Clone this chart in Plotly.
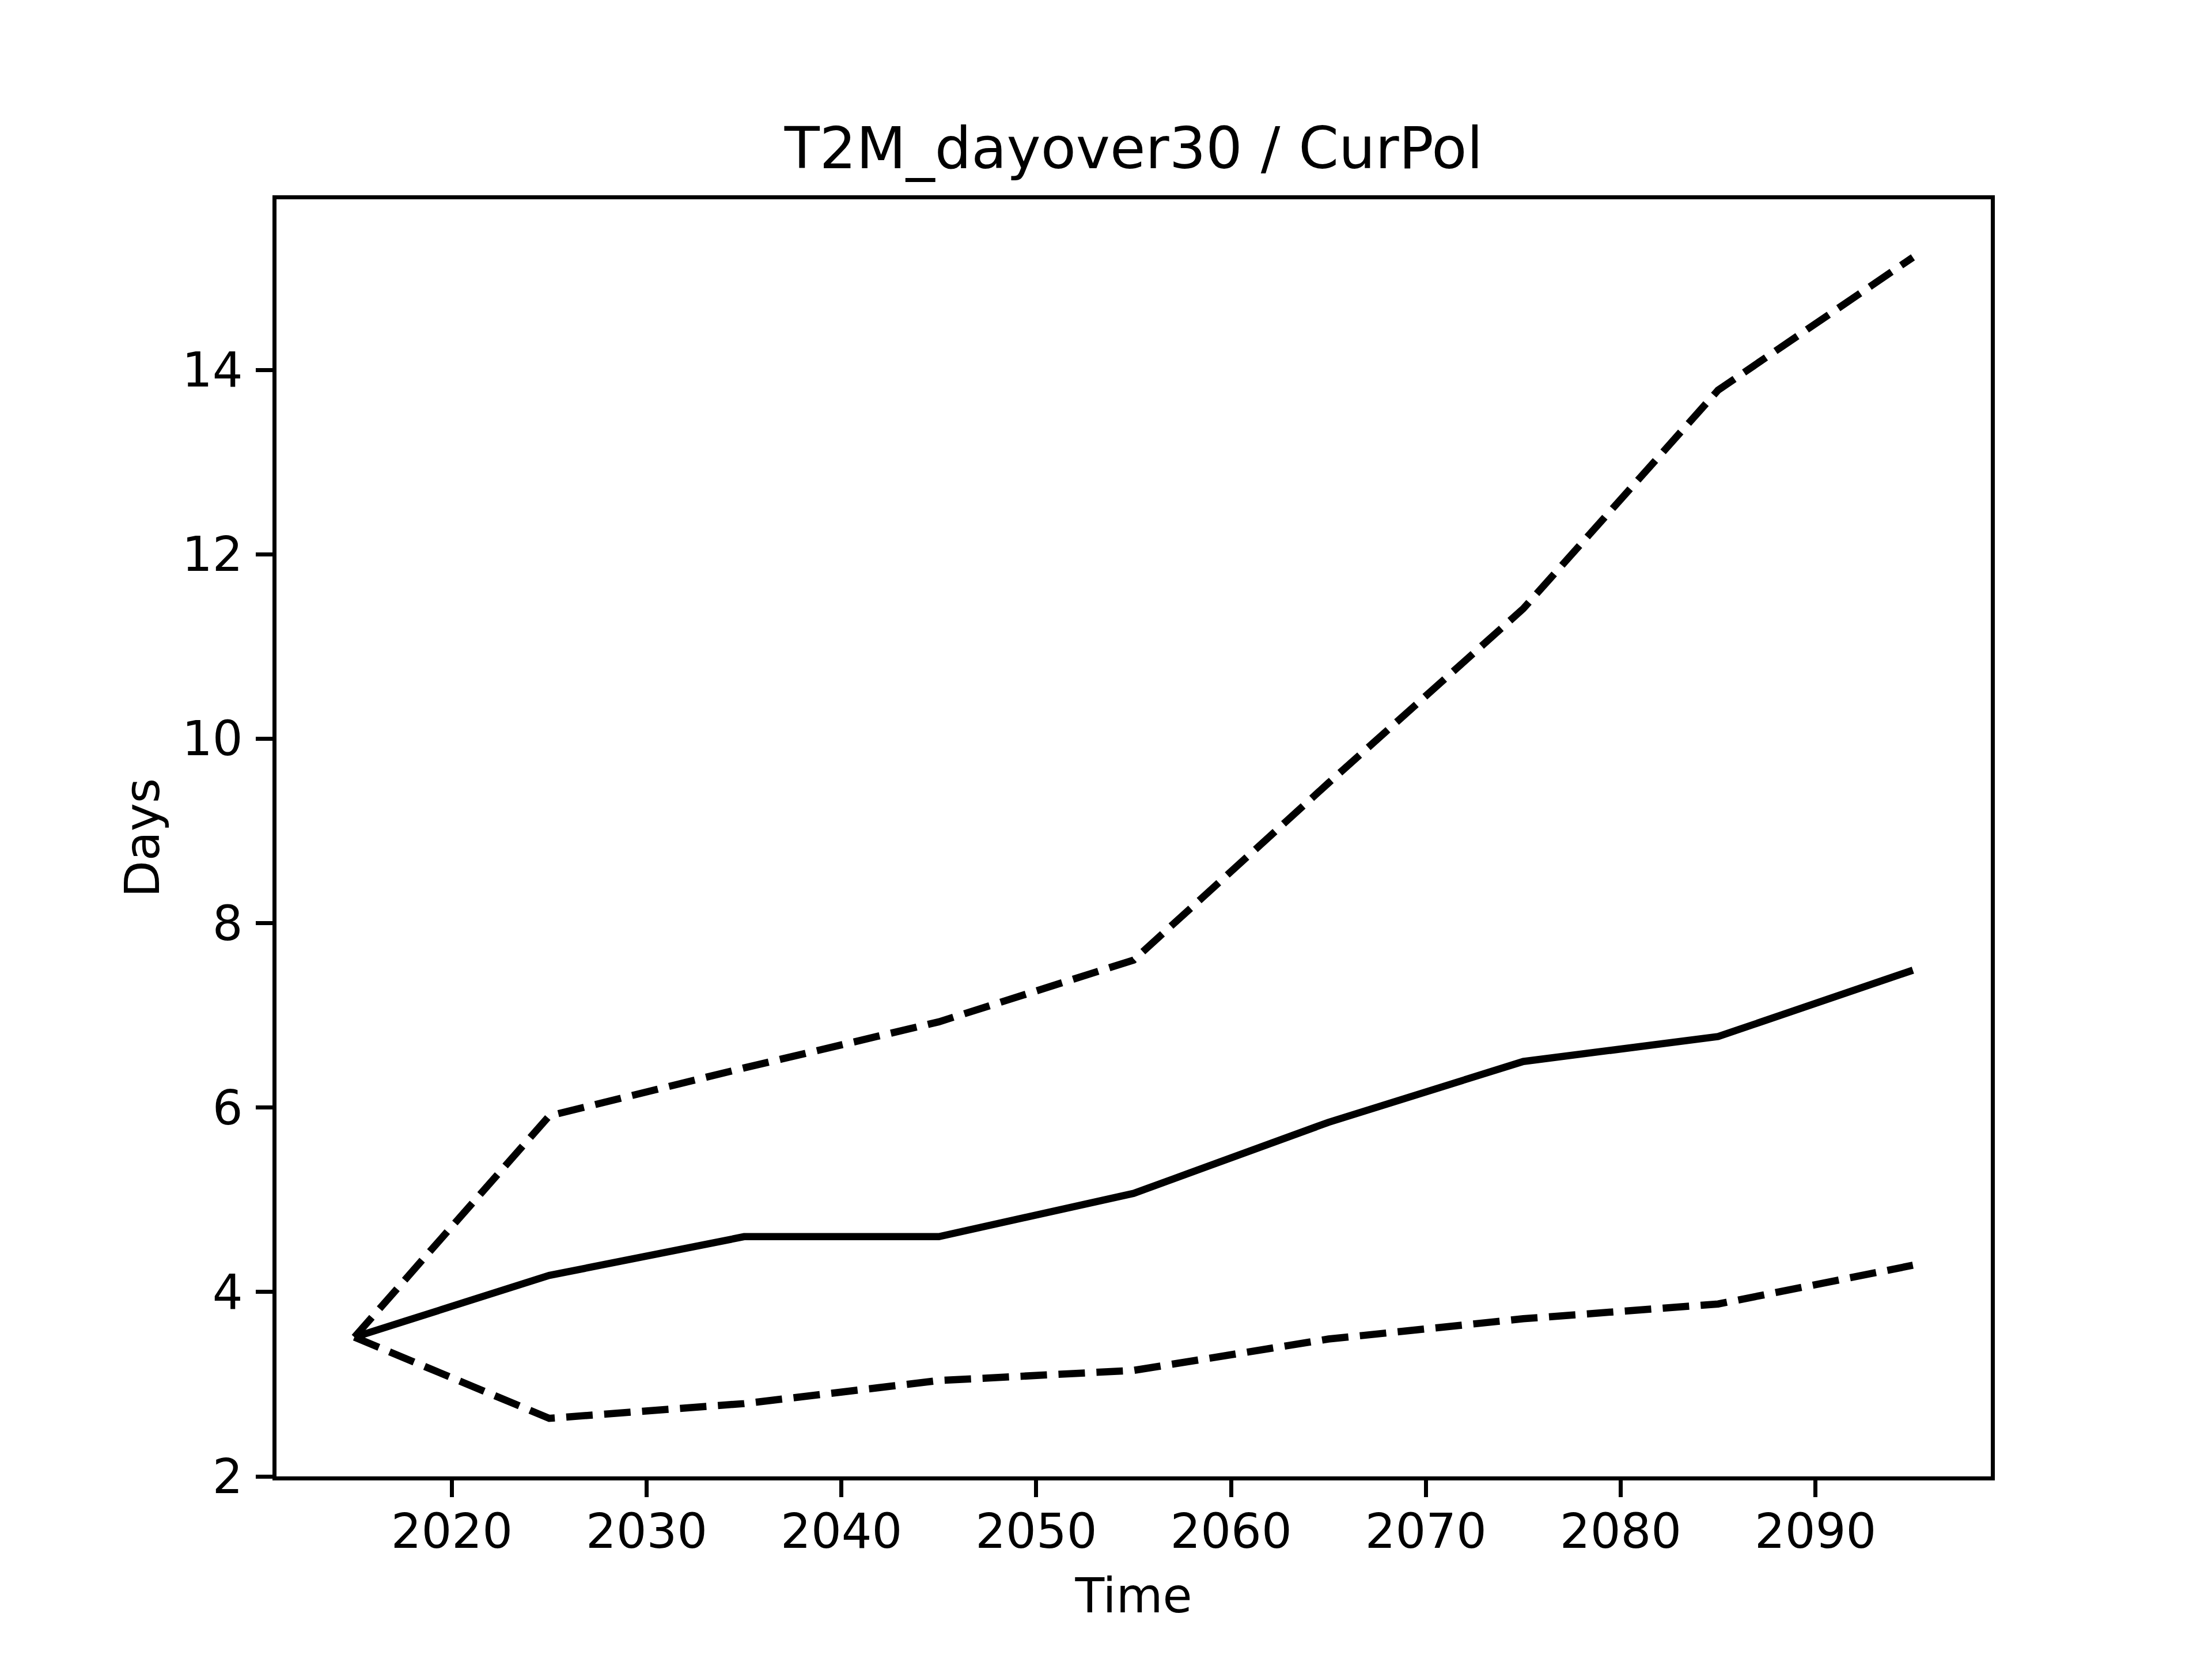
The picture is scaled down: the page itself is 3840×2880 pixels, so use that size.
import plotly.graph_objects as go

years = [2015, 2025, 2035, 2045, 2055, 2065, 2075, 2085, 2095]
mean_days = [3.51, 4.18, 4.60, 4.60, 5.07, 5.84, 6.50, 6.77, 7.49]
upper_days = [3.51, 5.91, 6.43, 6.93, 7.60, 9.52, 11.41, 13.78, 15.22]
lower_days = [3.51, 2.63, 2.79, 3.04, 3.15, 3.49, 3.71, 3.87, 4.29]

title = "T2M_dayover30 / CurPol"
x_label = "Time"
y_label = "Days"
x_ticks = [2020, 2030, 2040, 2050, 2060, 2070, 2080, 2090]
y_ticks = [2, 4, 6, 8, 10, 12, 14]

W, H = 3840, 2880
OFF = 8  # page body margin
L, R, T, B = 480 - OFF, 384 + OFF, 346 - OFF, 317 + OFF
LW = 12.5
FONT = "DejaVu Sans"

fig = go.Figure()
fig.add_trace(go.Scatter(x=years, y=mean_days, mode="lines",
                         line=dict(color="black", width=LW)))
fig.add_trace(go.Scatter(x=years, y=lower_days, mode="lines",
                         line=dict(color="black", width=LW, dash="46px,20px")))
fig.add_trace(go.Scatter(x=years, y=upper_days, mode="lines",
                         line=dict(color="black", width=LW, dash="46px,20px")))

xmin, xmax = min(years), max(years)
xm = (xmax - xmin) * 0.05
allv = mean_days + upper_days + lower_days
ymin, ymax = min(allv), max(allv)
ym = (ymax - ymin) * 0.05

axis_common = dict(
    showgrid=False, zeroline=False, showline=True, mirror=True,
    linecolor="black", linewidth=6.7, ticks="outside", ticklen=29,
    tickwidth=6.7, tickcolor="black",
    tickfont=dict(family=FONT, size=83, color="black"),
)

fig.update_layout(
    width=W, height=H, autosize=False,
    margin=dict(l=L, r=R, t=T, b=B, pad=0),
    paper_bgcolor="white", plot_bgcolor="white",
    showlegend=False,
    font=dict(family=FONT, color="black"),
    title=dict(text=title, x=(L + (W - R)) / 2 / W, xanchor="center",
               xref="container", yref="container",
               y=(H - 284) / H, yanchor="bottom",
               font=dict(family=FONT, size=100, color="black")),
    xaxis=dict(range=[xmin - xm, xmax + xm], tickvals=x_ticks,
               ticklabelstandoff=-11,
               title=dict(text=x_label, standoff=37,
                          font=dict(family=FONT, size=83, color="black")),
               **axis_common),
    yaxis=dict(range=[ymin - ym, ymax + ym], tickvals=y_ticks,
               ticklabelstandoff=6,
               title=dict(text=y_label, standoff=14,
                          font=dict(family=FONT, size=83, color="black")),
               **axis_common),
)

fig.write_html("out.html")
